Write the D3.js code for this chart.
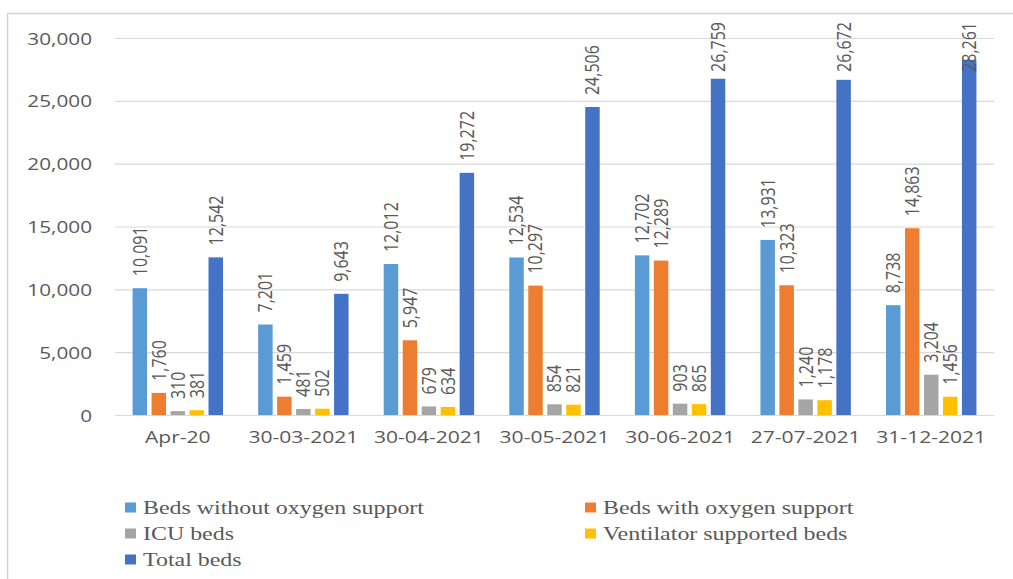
<!DOCTYPE html>
<html>
<head>
<meta charset="utf-8">
<script src="https://cdn.jsdelivr.net/npm/d3@7"></script>
<style>
  html, body { margin: 0; padding: 0; background: #fff; }
  svg { display: block; }
</style>
</head>
<body>
<svg id="chart" width="1013" height="579"></svg>
<script>
// Hospital bed capacity by date and bed type
const categories = ["Apr-20", "30-03-2021", "30-04-2021", "30-05-2021", "30-06-2021", "27-07-2021", "31-12-2021"];
const seriesNames = ["Beds without oxygen support", "Beds with oxygen support", "ICU beds", "Ventilator supported beds", "Total beds"];
const bedsWithoutOxygen = [10091, 7201, 12012, 12534, 12702, 13931, 8738];
const bedsWithOxygen    = [1760, 1459, 5947, 10297, 12289, 10323, 14863];
const icuBeds           = [310, 481, 679, 854, 903, 1240, 3204];
const ventilatorBeds    = [381, 502, 634, 821, 865, 1178, 1456];
const totalBeds         = [12542, 9643, 19272, 24506, 26759, 26672, 28261];
const yTicks = [0, 5000, 10000, 15000, 20000, 25000, 30000];

const seriesValues = [bedsWithoutOxygen, bedsWithOxygen, icuBeds, ventilatorBeds, totalBeds];
const colors = ["#5B9BD5", "#ED7D31", "#A5A5A5", "#FFC000", "#4472C4"];
const textColor = "#595959";

const svg = d3.select("#chart");

// outer frame
svg.append("rect")
  .attr("x", 7.5).attr("y", 13.5)
  .attr("width", 1040).attr("height", 600)
  .attr("fill", "none").attr("stroke", "#d4d4d4").attr("stroke-width", 1.5);

const plot = { left: 115, right: 994, top: 38, bottom: 415 };

const x0 = d3.scaleBand().domain(categories).range([plot.left, plot.right]).padding(0);
const groupW = x0.bandwidth() * 0.72;
const x1 = d3.scaleBand().domain(seriesNames).range([0, groupW]).paddingInner(0.237).paddingOuter(0);
const y = d3.scaleLinear().domain([0, 30000]).range([plot.bottom, plot.top]);

// y axis with gridlines
const yAxis = svg.append("g")
  .attr("transform", `translate(${plot.left},0)`)
  .call(d3.axisLeft(y).tickValues(yTicks).tickFormat(d3.format(",")).tickSize(-(plot.right - plot.left)).tickPadding(0));
yAxis.select(".domain").remove();
yAxis.selectAll(".tick line").attr("stroke", "#d9d9d9").attr("stroke-width", 1.2);
yAxis.selectAll(".tick text")
  .attr("x", 0).attr("dy", "0.36em")
  .attr("transform", "translate(-23,0) scale(1.22,1)")
  .attr("text-anchor", "end")
  .attr("fill", textColor)
  .style("font-family", "'Open Sans', sans-serif")
  .style("font-size", "17px");

// x axis category labels
const xAxis = svg.append("g")
  .attr("transform", `translate(0,${plot.bottom})`)
  .call(d3.axisBottom(x0).tickSize(0));
xAxis.select(".domain").remove();
xAxis.selectAll(".tick text")
  .attr("y", 0).attr("dy", 0)
  .attr("transform", "translate(0,28) scale(1.24,1)")
  .attr("text-anchor", "middle")
  .attr("fill", textColor)
  .style("font-family", "'Open Sans', sans-serif")
  .style("font-size", "17px");

// bars
const rows = [];
categories.forEach((c, i) => {
  seriesNames.forEach((s, j) => rows.push({ cat: c, series: s, value: seriesValues[j][i], color: colors[j] }));
});

const groupOffset = (x0.bandwidth() - groupW) / 2;
const barX = d => x0(d.cat) + groupOffset + x1(d.series);

svg.append("g").selectAll("rect")
  .data(rows).join("rect")
  .attr("x", barX)
  .attr("y", d => y(d.value))
  .attr("width", x1.bandwidth())
  .attr("height", d => plot.bottom - y(d.value))
  .attr("fill", d => d.color);

// rotated value labels
const fmt = d3.format(",");
const labels = svg.append("g").selectAll("text")
  .data(rows).join("text")
  .text(d => fmt(d.value))
  .attr("fill", textColor)
  .attr("text-anchor", "start")
  .attr("dy", "0.36em")
  .style("font-family", "'Open Sans', sans-serif")
  .style("font-size", "16px");

labels.each(function(d) {
  const len = this.getComputedTextLength();
  const cx = barX(d) + x1.bandwidth() / 2;
  const start = Math.max(y(d.value) - 12, 22 + len);
  d3.select(this).attr("transform", `translate(${cx},${start}) rotate(-90) scale(1,1.2)`);
});

// legend
const legendItems = [
  { name: seriesNames[0], color: colors[0], x: 125, y: 508 },
  { name: seriesNames[1], color: colors[1], x: 585, y: 508 },
  { name: seriesNames[2], color: colors[2], x: 125, y: 534 },
  { name: seriesNames[3], color: colors[3], x: 585, y: 534 },
  { name: seriesNames[4], color: colors[4], x: 125, y: 560 }
];
const lg = svg.append("g").selectAll("g").data(legendItems).join("g")
  .attr("transform", d => `translate(${d.x},${d.y})`);
lg.append("rect")
  .attr("x", 0).attr("y", -5.5).attr("width", 11).attr("height", 10)
  .attr("fill", d => d.color);
lg.append("text")
  .text(d => d.name)
  .attr("transform", "translate(18,0) scale(1.33,1)")
  .attr("dy", "0.33em")
  .attr("fill", textColor)
  .style("font-family", "'Liberation Serif', 'Times New Roman', serif")
  .style("font-size", "18px");
</script>
</body>
</html>
